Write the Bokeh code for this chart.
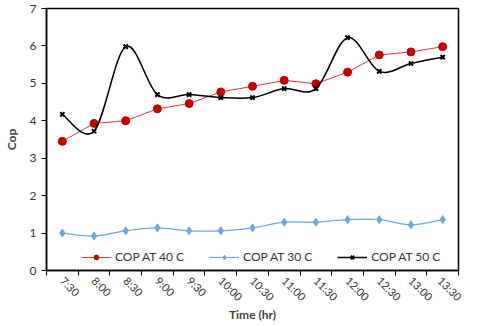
import math
from bokeh.plotting import figure
from bokeh.models import Range1d, FixedTicker, Legend, LegendItem, ColumnDataSource
from bokeh.embed import file_html
from bokeh.resources import INLINE

times = ["7:30", "8:00", "8:30", "9:00", "9:30", "10:00", "10:30",
         "11:00", "11:30", "12:00", "12:30", "13:00", "13:30"]
cop_40 = [3.45, 3.93, 4.0, 4.32, 4.46, 4.77, 4.92, 5.08, 4.99, 5.3, 5.76, 5.84, 5.98]
cop_30 = [1.0, 0.92, 1.06, 1.14, 1.06, 1.06, 1.14, 1.29, 1.29, 1.36, 1.36, 1.22, 1.36]
cop_50 = [4.17, 3.72, 5.98, 4.7, 4.7, 4.62, 4.62, 4.86, 4.86, 6.22, 5.32, 5.53, 5.7]
y_ticks = [0, 1, 2, 3, 4, 5, 6, 7]

FONT = "Lato"
xs = [i + 0.5 for i in range(len(times))]

p = figure(width=464, height=324, output_backend="svg", toolbar_location=None,
           x_range=Range1d(0, len(times)), y_range=Range1d(0, 7),
           min_border_left=38, min_border_right=6, min_border_top=8, min_border_bottom=40)
p.grid.visible = False
p.outline_line_color = "black"
p.outline_line_width = 1.5
p.background_fill_color = "white"
p.border_fill_color = "white"

def smooth_segments(x, y):
    n = len(x)
    d = dict(x0=[], y0=[], x1=[], y1=[], cx0=[], cy0=[], cx1=[], cy1=[])
    for i in range(n - 1):
        xm, ym = (x[i - 1], y[i - 1]) if i > 0 else (x[i], y[i])
        xp, yp = (x[i + 2], y[i + 2]) if i + 2 < n else (x[i + 1], y[i + 1])
        d["x0"].append(x[i]); d["y0"].append(y[i])
        d["x1"].append(x[i + 1]); d["y1"].append(y[i + 1])
        d["cx0"].append(x[i] + (x[i + 1] - xm) / 6.0)
        d["cy0"].append(y[i] + (y[i + 1] - ym) / 6.0)
        d["cx1"].append(x[i + 1] - (xp - x[i]) / 6.0)
        d["cy1"].append(y[i + 1] - (yp - y[i]) / 6.0)
    return ColumnDataSource(d)

red_line = "#E0393E"
red_fill = "#C00000"
blue = "#6FA8DC"

# 40 C (straight)
r40l = p.line(xs, cop_40, line_color=red_line, line_width=1)
r40m = p.scatter(xs, cop_40, marker="circle", size=8, fill_color=red_fill, line_color=red_fill)

# 30 C (smoothed)
r30l = p.bezier(x0="x0", y0="y0", x1="x1", y1="y1", cx0="cx0", cy0="cy0", cx1="cx1", cy1="cy1",
                source=smooth_segments(xs, cop_30), line_color=blue, line_width=1.2)
r30m = p.scatter(xs, cop_30, marker="diamond", size=8, fill_color=blue, line_color=blue)

# 50 C (smoothed)
r50l = p.bezier(x0="x0", y0="y0", x1="x1", y1="y1", cx0="cx0", cy0="cy0", cx1="cx1", cy1="cy1",
                source=smooth_segments(xs, cop_50), line_color="black", line_width=1.5)
r50m = p.scatter(xs, cop_50, marker="x", size=6, line_color="black", line_width=2)

# axes
xa = p.xaxis[0]
xa.ticker = FixedTicker(ticks=xs, minor_ticks=list(range(len(times) + 1)))
xa.major_label_overrides = {x: t for x, t in zip(xs, times)}
xa.major_tick_in = 0
xa.major_tick_out = 0
xa.minor_tick_in = 0
xa.minor_tick_out = 5
xa.minor_tick_line_color = "black"
xa.axis_line_color = "black"
xa.axis_line_width = 1.5
xa.major_label_orientation = -math.pi / 4
xa.major_label_standoff = 3
xa.major_label_text_font = FONT
xa.major_label_text_font_size = "11px"
xa.major_label_text_line_height = 0.8
xa.major_label_text_color = "#333333"
xa.axis_label = "Time (hr)"
xa.axis_label_text_font = FONT
xa.axis_label_text_font_style = "bold"
xa.axis_label_text_font_size = "12px"
xa.axis_label_text_line_height = 0.8
xa.axis_label_standoff = -4

ya = p.yaxis[0]
ya.ticker = FixedTicker(ticks=y_ticks)
ya.major_tick_in = 0
ya.major_tick_out = 5
ya.minor_tick_line_color = None
ya.axis_line_color = "black"
ya.axis_line_width = 1.5
ya.major_label_text_font = FONT
ya.major_label_text_font_size = "12px"
ya.major_label_text_color = "#333355"
ya.axis_label = "Cop"
ya.axis_label_text_font = FONT
ya.axis_label_text_font_style = "bold"
ya.axis_label_text_font_size = "12px"
ya.axis_label_standoff = 8

legend = Legend(items=[
    LegendItem(label="COP AT 40 C", renderers=[r40l, r40m]),
    LegendItem(label="COP AT 30 C", renderers=[r30l, r30m]),
    LegendItem(label="COP AT 50 C", renderers=[r50l, r50m]),
], orientation="horizontal", location=(35, 6), border_line_color=None,
    background_fill_alpha=0, label_text_font=FONT, label_text_font_size="12px",
    label_text_color="#333355", glyph_width=30, glyph_height=12, label_standoff=4,
    spacing=25, padding=2, margin=0)
p.add_layout(legend, "center")

open("out.html", "w").write(file_html(p, INLINE))
